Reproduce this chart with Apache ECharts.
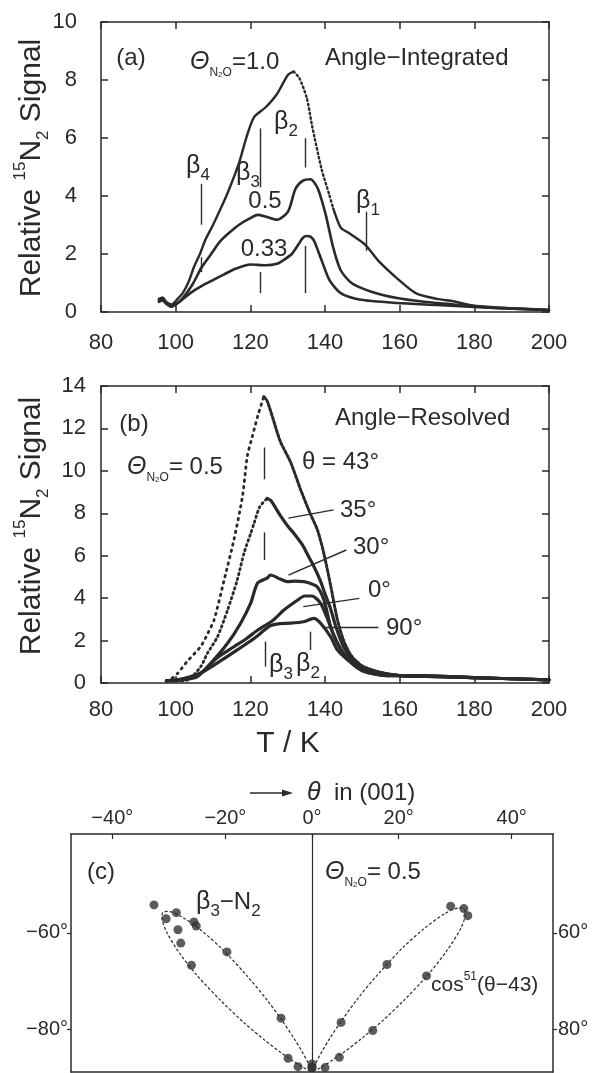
<!DOCTYPE html>
<html><head><meta charset="utf-8">
<script src="https://cdn.jsdelivr.net/npm/echarts@6/dist/echarts.min.js"></script>
<style>html,body{margin:0;padding:0;background:#fff}#c{width:592px;height:1073px}</style>
</head><body><div id="c"></div>
<script>
// ---------- panel (a): angle-integrated TPD ----------
const xTicksT = [80, 100, 120, 140, 160, 180, 200];
const a10T = [95.5,96.5,97.5,98.9,100.5,101.9,103.5,104.9,106.5,108,110,112,114,117,119,121,124.1,127.1,130.1,131.6,133.1,135.1,136.6,139.1,141.2,142.2,144.2,146.2,148.7,151,154.2,159.3,164.3,170,174.4,180,190,200];
const a10V = [0.45,0.5,0.35,0.26,0.45,0.65,1.05,1.55,2.0,2.5,3.0,3.55,4.13,5.15,6.04,6.72,7.06,7.51,8.18,8.29,8.07,7.39,6.38,4.92,4.02,3.57,2.91,2.74,2.52,2.29,1.78,1.16,0.65,0.45,0.37,0.22,0.13,0.07];
const a05T = [95.5,96.5,97.5,98.9,100.5,101.9,104.5,107,109.5,112,114.5,117,119.5,122,124.1,127.1,130.1,132.1,134.1,136.1,138.1,140.2,142.2,144.2,147.2,152.2,159.3,166,174.4,185,200];
const a05V = [0.4,0.45,0.3,0.22,0.32,0.48,0.95,1.55,2.0,2.45,2.75,3.01,3.2,3.35,3.29,3.18,3.46,4.25,4.53,4.58,4.25,3.35,2.22,1.44,0.99,0.71,0.48,0.36,0.26,0.15,0.07];
const a033T = [95.5,96.5,97.5,98.9,101,103.9,107,110,113,116,120,124.1,127.1,129,131.1,133,134.1,135.1,136.1,137.1,139.1,141.2,144.2,149.2,159.3,170,185,200];
const a033V = [0.35,0.4,0.28,0.18,0.35,0.65,0.9,1.10,1.3,1.49,1.64,1.61,1.66,1.8,2.0,2.35,2.56,2.62,2.6,2.45,1.78,1.10,0.65,0.43,0.31,0.24,0.14,0.07];
// vertical marker segments [T, vTop, vBottom]
const aMarks = [[106.9,4.42,3.01],[106.9,1.89,1.38],[122.7,6.33,4.30],[122.7,1.38,0.65],[134.6,5.99,4.98],[134.6,2.28,0.65],[151.1,3.46,2.11]];

// ---------- panel (b): angle-resolved TPD ----------
const b43T = [97.5,98.5,100.5,103,106.7,108.5,110.3,113,115.6,117.9,119.2,120.5,122,123.6,124.5,126,128,130.8,133.5,136,138,139.7,141.5,143.3,145,147,150,155,160,170,180,190,200];
const b43V = [0.1,0.15,0.45,1.0,1.72,2.3,2.98,4.87,6.75,8.8,10.7,11.6,12.6,13.5,13.3,12.5,11.4,10.4,9.1,8.0,7.2,6.1,4.6,3.0,2.0,1.3,0.8,0.5,0.35,0.3,0.25,0.2,0.15];
const b35T = [97.5,100,103.2,106.7,108.5,111.2,113.9,116.5,118.3,120,121,122.5,124.5,125.5,128,130,131.7,134,135.2,137,138.8,140,141.5,143,145,148,152,160,170,180,190,200];
const b35V = [0.1,0.1,0.14,0.77,1.4,2.18,3.44,4.86,6.12,7.0,7.53,8.3,8.7,8.6,7.9,7.4,7.05,6.5,6.1,5.5,4.8,4.2,3.5,2.6,1.7,1.0,0.6,0.35,0.3,0.25,0.2,0.15];
const b30T = [97.5,102,105.8,109.4,113.9,117.4,120.1,121.9,124.5,125.4,128,129.9,132,134.3,136,137.9,139.7,141.5,143,145,148,152,160,170,180,190,200];
const b30V = [0.1,0.15,0.3,0.93,1.87,2.82,3.76,4.7,4.94,5.09,4.9,4.78,4.8,4.78,4.7,4.54,3.92,2.66,2.0,1.4,0.9,0.55,0.35,0.3,0.25,0.2,0.15];
const b0T = [97.5,102,106.7,111.2,115.6,119,122,126,129,132.6,134.5,136.5,138.8,140.5,142,143.5,146,150,156.5,165,180,190,200];
const b0V = [0.1,0.2,0.46,1.2,1.71,2.1,2.5,2.95,3.44,3.9,4.1,4.1,3.76,3.1,2.4,1.8,1.13,0.58,0.35,0.35,0.25,0.2,0.15];
const b90T = [97.5,102,107,112.1,116.5,121,125.4,128,130.8,134.3,137,138.8,141.5,143.3,146,150,156.5,165,180,190,200];
const b90V = [0.1,0.2,0.5,1.05,1.56,2.1,2.7,2.8,2.82,2.89,3.05,2.82,2.18,1.56,1.1,0.58,0.35,0.35,0.25,0.2,0.15];
const bMarks = [[123.8,11.1,9.6],[123.8,7.1,5.8],[124.1,1.95,0.77],[136.1,2.42,1.56]];
// leader lines [T1, v1, T2, v2]
const bLeaders = [[130.2,7.77,142.3,8.16],[130.2,5.09,145.7,6.27],[134.2,3.6,149.2,3.99],[140.3,2.65,154.3,2.65]];

// ---------- panel (c): polar plot of beta3-N2 (angle deg, relative intensity) ----------
const cLeftAngle = [-43.4,-43.6,-40.4,-38.2,-38.4,-43.3,-45.5,-35.3,-48.5,-29.9,-60,-69,0,-4,4];
const cLeftR     = [1.00,0.92,0.91,0.83,0.81,0.85,0.80,0.64,0.70,0.27,0.12,0.065,0.035,0.02,0.02];
const cRightAngle = [39.9,42.9,44.9,34.9,50,30.4,55.7,61.8,71.4];
const cRightR     = [0.94,0.97,0.96,0.57,0.65,0.25,0.32,0.135,0.06];
const fitRightAngle = [10,16,20,22,24,26,28,30,32,34,36,38,40,42,43,44,46,48,50,52,54,56,58,60,62,64,66,70,76];
const fitRightR     = [0,0.00,0.01,0.03,0.06,0.10,0.17,0.26,0.38,0.51,0.66,0.79,0.90,0.96,0.97,0.96,0.90,0.79,0.66,0.51,0.38,0.26,0.17,0.10,0.06,0.03,0.01,0.00,0];
const fitLeftAngle = [-10,-16,-20,-22,-24,-26,-28,-30,-32,-34,-36,-38,-40,-42,-43,-44,-46,-48,-50,-52,-54,-56,-58,-60,-62,-64,-66,-70,-76];
const fitLeftR     = [0,0.00,0.01,0.03,0.05,0.10,0.16,0.25,0.37,0.50,0.65,0.78,0.88,0.94,0.95,0.94,0.88,0.78,0.65,0.50,0.37,0.25,0.16,0.10,0.05,0.03,0.01,0.00,0];
const topTickAngles = [-40,-20,0,20,40];
const sideTickAngles = [60,80];
const cXMax = 1.048, cYMax = 1.035;

// ---------- helpers ----------
const FONT = '"Liberation Sans", Arial, sans-serif';
const INK = '#2a2a2a';
const D2R = Math.PI/180;
const pairs = (xs, ys) => xs.map((x,i)=>[x, ys[i]]);
const polar = (as, rs) => as.map((a,i)=>[rs[i]*Math.sin(a*D2R), rs[i]*Math.cos(a*D2R)]);
const deg = v => (v<0?'\u2212':'') + Math.abs(v) + '°';
const peakIdx = ys => ys.indexOf(Math.max.apply(null, ys));
const firstAt = (xs, t) => xs.findIndex(x => x >= t);

function axis(o){
  return Object.assign({
    type:'value',
    axisLine:{show:true,onZero:false,lineStyle:{color:INK,width:1.5}},
    axisTick:{show:true,inside:true,length:7,lineStyle:{color:INK,width:1.5}},
    splitLine:{show:false},
    axisLabel:{show:false}
  }, o);
}
const lbl = (m) => ({show:true,color:INK,fontSize:22,fontFamily:FONT,margin:m});

const segs = (arr) => arr.map(s=>[{coord:[s[0],s[1]]},{coord:[s[0],s[2]]}]);
const segs4 = (arr) => arr.map(s=>[{coord:[s[0],s[1]]},{coord:[s[2],s[3]]}]);
const ml = (data) => ({silent:true,symbol:['none','none'],label:{show:false},animation:false,
  lineStyle:{color:INK,width:1.4,type:'solid'},emphasis:{disabled:true},data});

const line = (xi, data, w, type, extra) => Object.assign({type:'line',xAxisIndex:xi,yAxisIndex:xi,data,showSymbol:false,
  lineStyle:{color:INK,width:w,type:type||'solid',cap:'round'},smooth:0.25,silent:true}, extra||{});

const topVals = topTickAngles.map(a=>cYMax*Math.tan(a*D2R));
const sideVals = sideTickAngles.map(a=>cXMax/Math.tan(a*D2R));

// split points for curve styling (dotted vs dense parts)
const a10P = pairs(a10T,a10V), a10k = peakIdx(a10V), a10j = firstAt(a10T,142);
const b43P = pairs(b43T,b43V), b43k = peakIdx(b43V);
const b35P = pairs(b35T,b35V), b35k = peakIdx(b35V);

// ---------- text ----------
const R = {
  m:{fontSize:24,fontFamily:FONT,fill:INK,lineHeight:34},
  it:{fontSize:25,fontFamily:FONT,fontStyle:'italic',fill:INK,lineHeight:34},
  sb:{fontSize:12,fontFamily:FONT,fill:INK,lineHeight:13,verticalAlign:'bottom'},
  sb2:{fontSize:8,fontFamily:FONT,fill:INK,lineHeight:9,verticalAlign:'bottom'},
  b:{fontSize:25,fontFamily:FONT,fill:INK,lineHeight:36},
  bs:{fontSize:17,fontFamily:FONT,fill:INK,lineHeight:17,verticalAlign:'bottom'},
  t:{fontSize:30,fontFamily:FONT,fill:INK,lineHeight:40},
  sp:{fontSize:17,fontFamily:FONT,fill:INK,lineHeight:17,verticalAlign:'top'},
  sub:{fontSize:17,fontFamily:FONT,fill:INK,lineHeight:17,verticalAlign:'bottom'},
  c:{fontSize:21,fontFamily:FONT,fill:INK,lineHeight:28},
  csp:{fontSize:12,fontFamily:FONT,fill:INK,lineHeight:12,verticalAlign:'top'}
};
const G = [];
function txt(x,y,text,o){ G.push({type:'text',x,y,silent:true,z:10,
  style:Object.assign({text,rich:R,fill:INK,fontSize:24,fontFamily:FONT,align:'left',verticalAlign:'middle'},o||{})}); }

const yTitle = '{t|Relative }{sp|15}{t|N}{sub|2}{t| Signal}';
G.push({type:'text',x:32,y:168,rotation:Math.PI/2,silent:true,style:{text:yTitle,rich:R,align:'center',verticalAlign:'middle',fill:INK}});
G.push({type:'text',x:32,y:526,rotation:Math.PI/2,silent:true,style:{text:yTitle,rich:R,align:'center',verticalAlign:'middle',fill:INK}});

// (a)
txt(131,58,'{m|(a)}',{align:'center'});
txt(190,62,'{it|Θ}{sb|N}{sb2|2}{sb|O}{m|=1.0}');
txt(325,58,'{m|Angle\u2212Integrated}');
txt(186,166,'{b|β}{bs|4}');
txt(236,173,'{b|β}{bs|3}');
txt(274,122,'{b|β}{bs|2}');
txt(356,201,'{b|β}{bs|1}');
txt(265,201,'{m|0.5}',{align:'center'});
txt(264,249,'{m|0.33}',{align:'center'});
// (b)
txt(134,424,'{m|(b)}',{align:'center'});
txt(335,418,'{m|Angle\u2212Resolved}');
txt(127,467,'{it|Θ}{sb|N}{sb2|2}{sb|O}{m|= 0.5}');
txt(302,462,'{m|θ = 43°}');
txt(340,510,'{m|35°}');
txt(353,547,'{m|30°}');
txt(368,590,'{m|0°}');
txt(386,628,'{m|90°}');
txt(269,665,'{b|β}{bs|3}');
txt(296,664,'{b|β}{bs|2}');
txt(288,744,'{t|T / K}',{align:'center'});
// (c)
txt(307,793,'{it|θ}{m|  in (001)}');
G.push({type:'line',silent:true,shape:{x1:250,y1:793,x2:284,y2:793},style:{stroke:INK,lineWidth:1.5}});
G.push({type:'polygon',silent:true,shape:{points:[[293,793],[282,789.5],[282,796.5]]},style:{fill:INK}});
txt(101,872,'{m|(c)}',{align:'center'});
txt(325,872,'{it|Θ}{sb|N}{sb2|2}{sb|O}{m|= 0.5}');
txt(196,902,'{b|β}{bs|3}{m|\u2212N}{bs|2}');
txt(431,985,'{c|cos}{csp|51}{c|(θ\u221243)}');

const chart = echarts.init(document.getElementById('c'), null, {renderer:'canvas'});
chart.setOption({
  animation:false,
  backgroundColor:'#ffffff',
  grid:[
    {left:101,top:22,width:448,height:290,containLabel:false,outerBoundsMode:'none'},
    {left:101,top:386,width:448,height:297,containLabel:false,outerBoundsMode:'none'},
    {left:71,top:834,width:482,height:238,containLabel:false,outerBoundsMode:'none'}
  ],
  xAxis:[
    axis({gridIndex:0,position:'bottom',min:80,max:200,interval:20,axisLabel:lbl(20)}),
    axis({gridIndex:0,position:'top',min:80,max:200,interval:20}),
    axis({gridIndex:1,position:'bottom',min:80,max:200,interval:20,axisLabel:lbl(16)}),
    axis({gridIndex:1,position:'top',min:80,max:200,interval:20}),
    axis({gridIndex:2,position:'top',min:-cXMax,max:cXMax,
      axisTick:{show:true,inside:true,length:5,customValues:topVals,lineStyle:{color:INK,width:1.2}},
      axisLabel:Object.assign(lbl(6),{fontSize:20,customValues:topVals,
        formatter:v=>deg(Math.round(Math.atan(v/cYMax)/D2R))})}),
    axis({gridIndex:2,position:'bottom',min:-cXMax,max:cXMax,axisTick:{show:false}})
  ],
  yAxis:[
    axis({gridIndex:0,position:'left',min:0,max:10,interval:2,axisLabel:lbl(24)}),
    axis({gridIndex:0,position:'right',min:0,max:10,interval:2}),
    axis({gridIndex:1,position:'left',min:0,max:14,interval:2,axisLabel:lbl(15)}),
    axis({gridIndex:1,position:'right',min:0,max:14,interval:2}),
    axis({gridIndex:2,position:'left',min:0,max:cYMax,
      axisTick:{show:true,inside:false,length:4,customValues:sideVals,lineStyle:{color:INK,width:1.2}},
      axisLabel:Object.assign(lbl(3),{fontSize:20,customValues:sideVals,
        formatter:v=>deg(-Math.round(Math.atan(cXMax/v)/D2R))})}),
    axis({gridIndex:2,position:'right',min:0,max:cYMax,
      axisTick:{show:true,inside:false,length:4,customValues:sideVals,lineStyle:{color:INK,width:1.2}},
      axisLabel:Object.assign(lbl(5),{fontSize:20,customValues:sideVals,
        formatter:v=>deg(Math.round(Math.atan(cXMax/v)/D2R))})})
  ],
  series:[
    line(0,a10P.slice(0,a10k+1),2.4,'solid',{markLine:ml(segs(aMarks))}),
    line(0,a10P.slice(a10k,a10j+1),2.4,[1.5,3]),
    line(0,a10P.slice(a10j),2.4),
    line(0,pairs(a05T,a05V),2.6),
    line(0,pairs(a033T,a033V),2.6),
    line(2,b43P.slice(0,b43k+1),2.8,[1.5,5],{markLine:ml(segs(bMarks).concat(segs4(bLeaders)))}),
    line(2,b43P.slice(b43k),3,[2.5,2]),
    line(2,b35P.slice(0,b35k+1),2.8,[1.5,3.5]),
    line(2,b35P.slice(b35k),3.2),
    line(2,pairs(b30T,b30V),3.2),
    line(2,pairs(b0T,b0V),3.2),
    line(2,pairs(b90T,b90V),3.2),
    {type:'line',xAxisIndex:4,yAxisIndex:4,data:polar(fitLeftAngle,fitLeftR),showSymbol:false,smooth:0.3,silent:true,
      lineStyle:{color:INK,width:1.2,type:[3,2]},
      markLine:Object.assign(ml([{xAxis:0}]),{lineStyle:{color:INK,width:1.2,type:'solid'}})},
    {type:'line',xAxisIndex:4,yAxisIndex:4,data:polar(fitRightAngle,fitRightR),showSymbol:false,smooth:0.3,silent:true,
      lineStyle:{color:INK,width:1.2,type:[3,2]}},
    {type:'scatter',xAxisIndex:4,yAxisIndex:4,data:polar(cLeftAngle,cLeftR),symbolSize:9,silent:true,itemStyle:{color:'#333'},z:5},
    {type:'scatter',xAxisIndex:4,yAxisIndex:4,data:polar(cRightAngle,cRightR),symbolSize:9,silent:true,itemStyle:{color:'#333'},z:5}
  ],
  graphic:G
});
</script></body></html>
